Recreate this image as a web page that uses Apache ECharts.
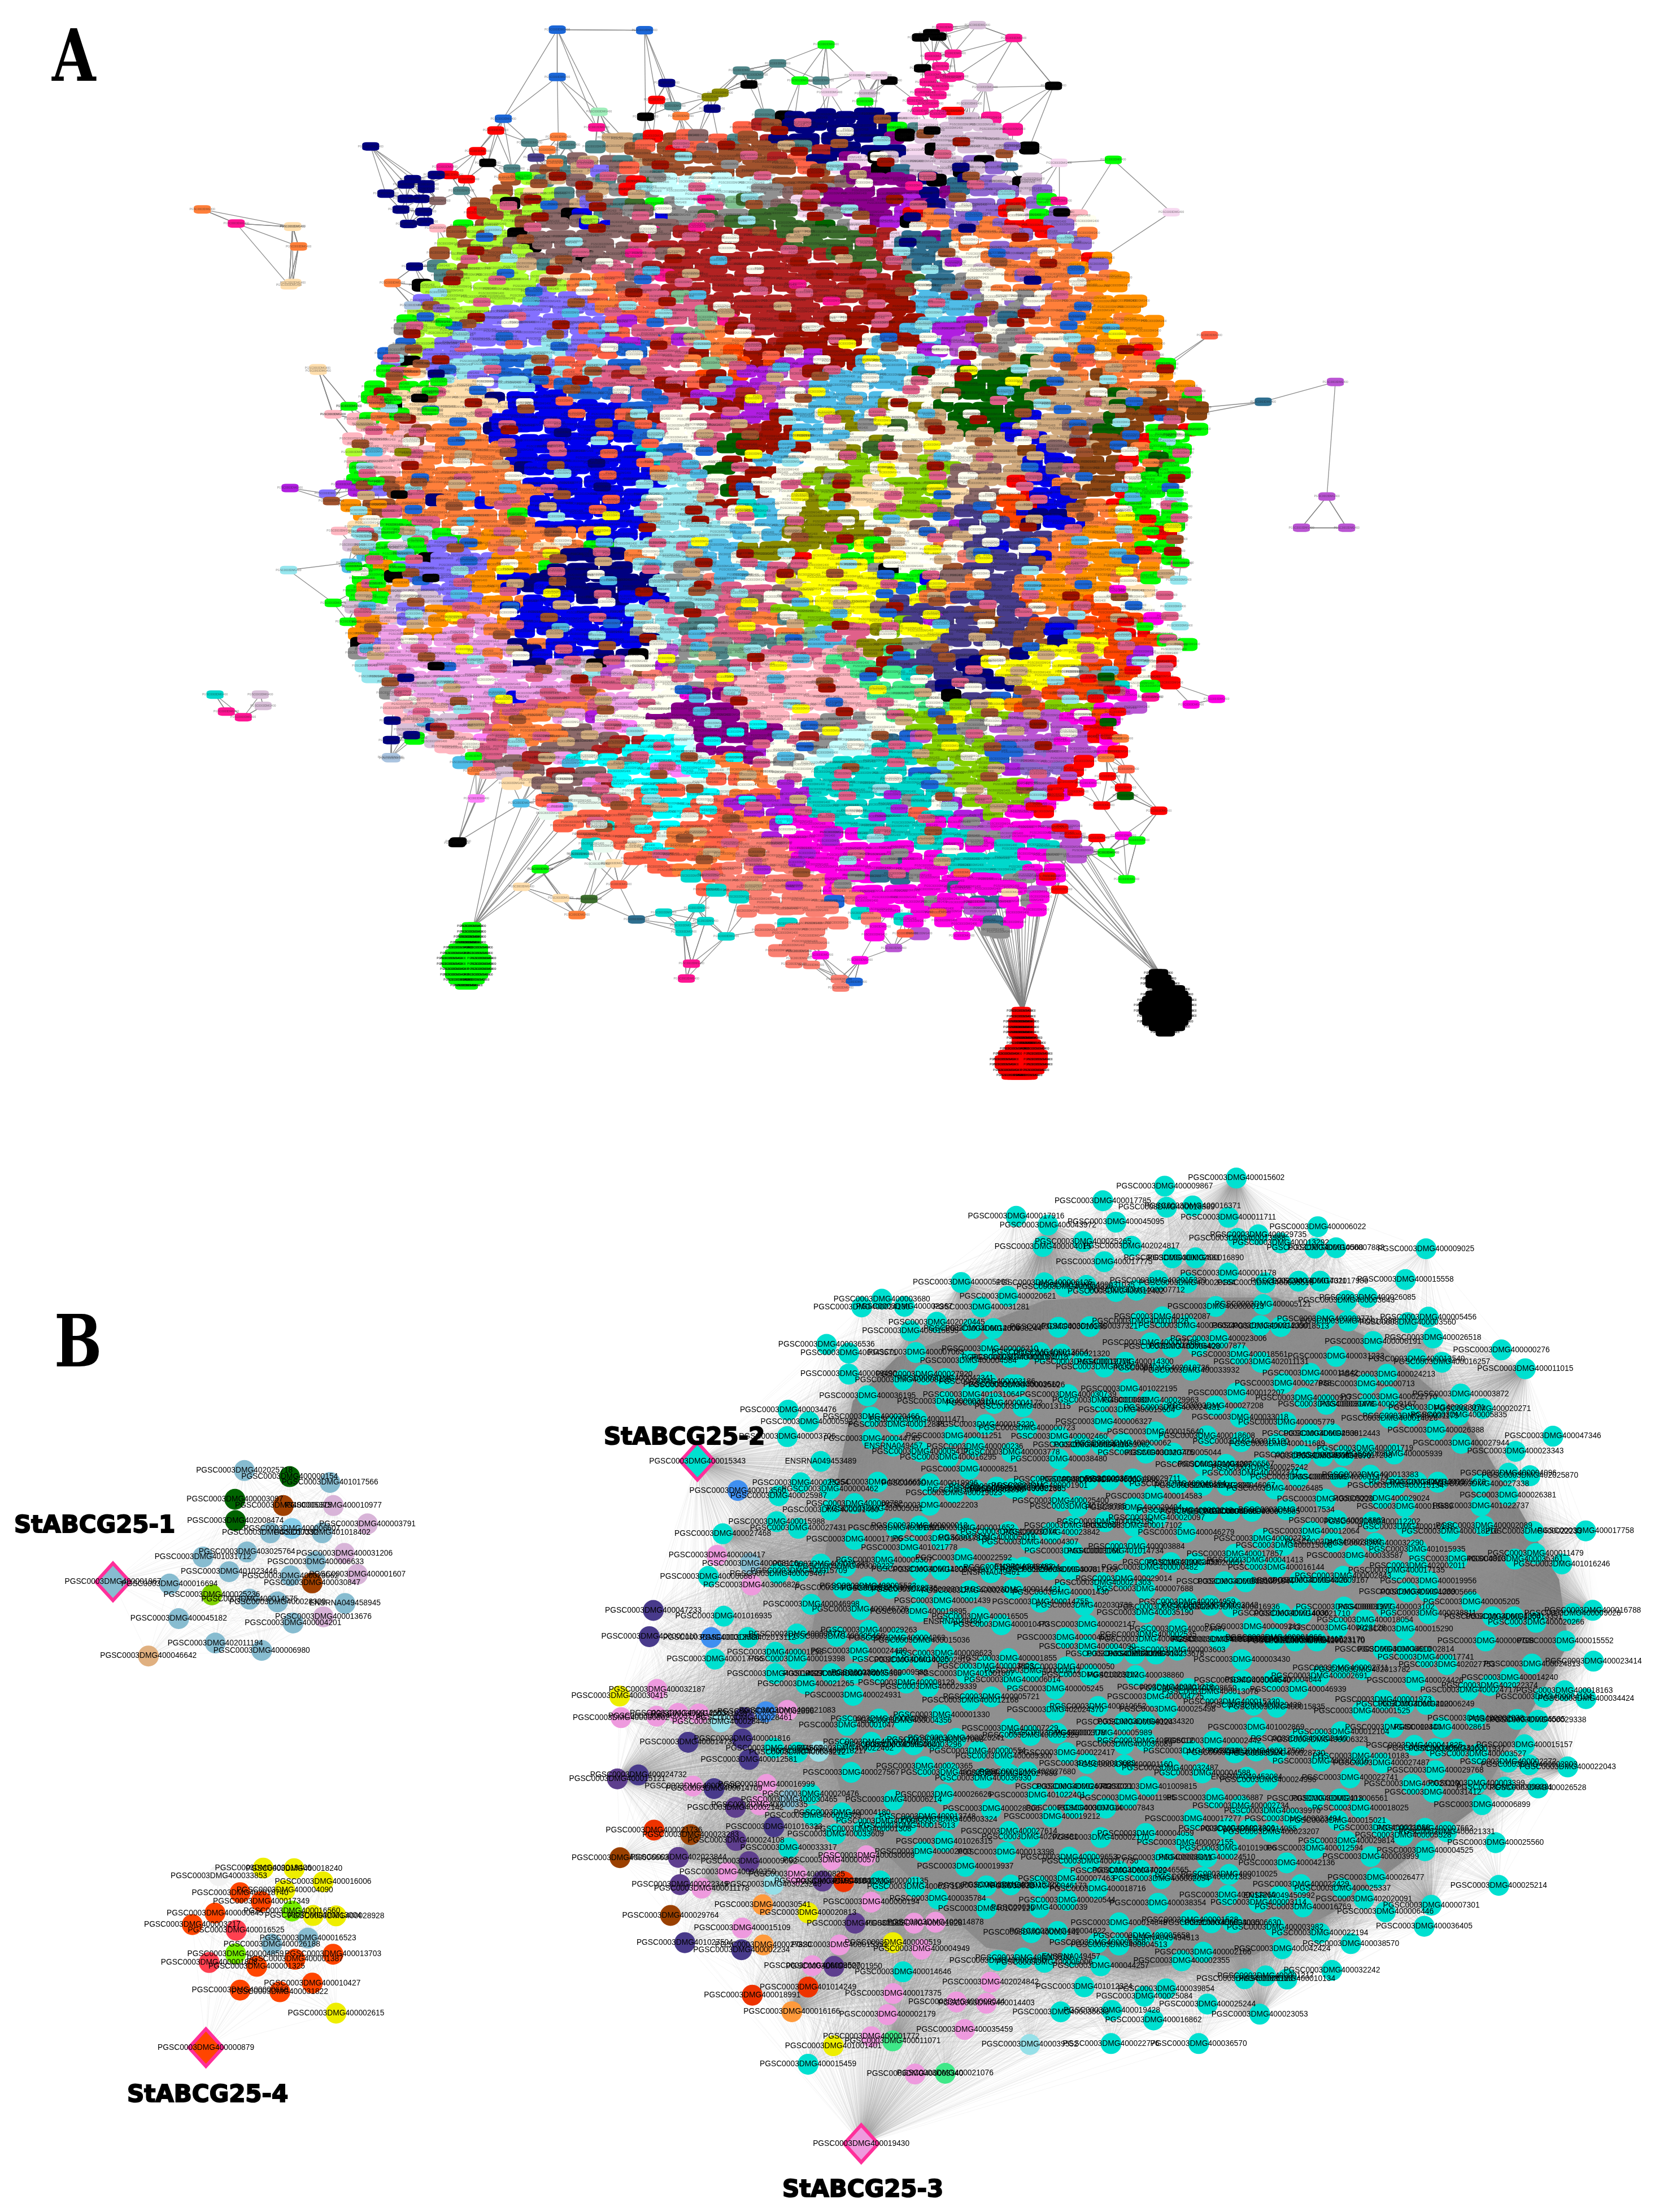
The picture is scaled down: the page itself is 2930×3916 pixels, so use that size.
<!DOCTYPE html>
<html>
<head>
<meta charset="utf-8">
<title>StABCG25 networks</title>
<script src="https://cdn.jsdelivr.net/npm/echarts@6/dist/echarts.min.js"></script>
<style>
html,body{margin:0;padding:0;background:#fff}
#chart{width:2930px;height:3916px}
</style>
</head>
<body>
<div id="chart"></div>
<script>
// panel A: colour of the modules, one letter per module
const moduleColor = {
  b:'#0000ee',n:'#000080',k:'#000000',r:'#ff0000',R:'#b22222',d:'#a01000',o:'#ff9000',O:'#ff7f3a',
  s:'#fa8072',t:'#ff6347',p:'#ffb6c1',P:'#f0a0e8',m:'#ff00e6',M:'#8b008b',v:'#b01ee0',V:'#9068d0',
  B:'#8470ff',c:'#00ffff',C:'#00d8cc',T:'#4f8689',g:'#00ff00',G:'#006400',l:'#adff2f',L:'#84d000',
  y:'#ffff00',Y:'#8b8b00',w:'#fffff0',W:'#f6d8f0',u:'#50bce8',U:'#1c67d8',e:'#96e6ee',a:'#d2ac80',
  A:'#a0522d',f:'#8b4513',h:'#ff1493',i:'#e0608a',j:'#909090',q:'#8b6969',x:'#d8bfd8',z:'#ffdead',
  D:'#7fc090',E:'#483d8b',F:'#2f6f8f',H:'#3c6e2d',I:'#ff83fa',J:'#eafaf0',K:'#43ee8a',N:'#ff4500',
  Q:'#ba55d3',0:'#c8ffff',1:'#a0eebb',2:'#aac4e0'
};

// panel A: dominant module, row by row (28 x 19 px cells, first row at y = 206)
const moduleRows = [
"                           TknnnnnnnW  xxh",
"                         tRAnnnnnnngTWxxxxh",
"                  aTrAtqtTARnnnnnnnMkxxxxxx",
"                TaAtArtqAAAAATRnnnnnWkxxxxxk",
"              TqaqTaAAAAAAAARtnnMWkxxxxxVk",
"            qATaBqtjTAAAAAAAAtAWMMkFxxxkxV",
"           AlTaqjTqrH0000000AAAAqMMMMnkFnVxkx",
"          AlzlTqajrj0000000jqAjMMMMMMnMFVVVxV",
"         AlkAlqaBqTHgj00jDHjqWAMMMMMvMnVVVVrVg",
"        rAlAlqkbTqjqbjjHjjHHHWWjMMMvrOVVVVrWgVp",
"        gAllAqqqbbqqqqjiqHHHHHHGjWMvkOOVVOVrrVVw",
"       AlAlkqqqqqqqhqRRRRRRRHHHHHHRWFMFOOOOVrVVO",
"       lAllqkqqqqqqiRRRRRRRRRHHHHHRWFFFwOOVOOOOV",
"      AllAAlqqqkqqqiqRRRRRRRRRRHHHRRFFwwwOVVOOOro",
"      TlAlllaTaqqiiiRRRRRRRRRRRRRdHRjFFwwxOOOOOoV",
"      TAlllllzzOOtqihRRRRRRRRRRRRRRdHFFjwwOVOOOOOo",
"     klllllllBlOOOqqiRRRRRRRRRRRRRdRRuFjVwOOOVOOoo",
"     BllllllBBBBtOttiDiRRRRRRRRRRRdduuuujwVjwOOOooo",
"     lllllBBBBBBBOtttiiDRRRRRRRRRRddduuuuvjjVOOOooo",
"    gllllBBBBBBBBtvttiiDhRRRRRRdddddduuvvjFwOOOooOoo",
"    jlllBBBBBBBBtvtiiiDDOdRRRRdddddduuvvQwwjOOOooooo",
"    UlBBBBBBBeeBBvvUtviOOOdRdddddwudduvQvwjwwwaOooOo",
"   UjlBBBBBeeeeBttUUtiidONdddwvddduwwvvQwjjwwaOoooor",
"   BkBBeeeUUeBtteUUiiiODONdNvvddduuuuuuvwaaGaOOtOOOOg",
"   ggzBBeBUUUeeteiRRiiiNdNvvQiduuuuuuGwwGGGGaaaOfOOOo",
"  gtggzzzBeebtUUiiUiddtdvvvQiQuuuuuuwwwGGGGaGaaafOOOOo",
"  gAzzzzzznbbbbUUUUiUidvvvRiQwuuuuuwwwaGGGGGaaaafGaOfOg",
"  gkzzzzzzzbbbbbbbUUiiRdddvvwwuuuuYwYwGGGGGGaaaaaGGffOf",
" pgOgzzzzzbbbbbbbbtAdwwiRvvvduuwYuwwwaaGGGGGbaaaaGffUff",
" ppOpAOOOnbbbbbbbbUUiwwiiRRdduuwYjwHwaaGGGbaaaqqGGfgfrg",
" ppppAOOOObbbbbbbbbUUwwiiGGdduuuwwYHwwaaaaabbaaqfffrgg",
" pppppOOOOObbbbbbbbCUUwiGGddudwwYHHwaawwaaafbqqaffOOgg",
" pppppOOOOObbbbbbbbbCiiwwdduuuwwYLLzaLawwaaabbbfffrgGg",
" gppOOOOOOOnbbbbbbbbOiiGGwddwwYLLLwwaLLqqqaabqqfffOGgg",
" ggAOOOOOOOObbbbbbbbbeeiwddwwiLjLLzLLLLqwaarbbOzffrgg",
" vBAOOOOOOOOObbbbbbbeeeiGddwwYLLzzzzLLzzqqwrbbfffrgg",
" oAAOOnOObOOObbbbbbbeeeeddCuwwYLzzzzLLLzqqNNrbbfOrgg",
" oAiOOOOOOOgbbbbbbbeeeeeiwCuwYYYYwLLLLqEENNbnnOOOoggg",
" zzgggiOOOOOObbbbbbbeeeeewwuuYYYYYwzzqwvEEENnbbbOOoogg",
" eegeeggOoooOOOObbbbeeeeeuwuYYYYYYwwwzqaEEEEEOOoooorr",
" xxgxgBBBoOOOzzOggeeeeiuuuYYYYYYgygwwwOwEEbEOOooooogg",
" ugggkBBBBooOOnnnnOOeeuuuwYYwryyggyywwwsjEEEbOOooooOg",
" ugoBBBBBBooognnnnneeejjuuwuiqyyyyjkwwwAEEEEEOoooooo",
" ggkBBBBoobbnnnnnnnnejjsuwwiyyyyyyyggbqqOEEOooOooOOg",
" gooxxBBBoobnbnnnnnnneejjiiiqyyyyyyyUgAOOEEOOooooozz",
" ggxxxxBBooObbbnnnbbbeeeiiqwqyyyyyyEyOOEEEENoooNwww",
" xxxBBooOOObbbbbbbbeeiTiiOTiLLLyyyqEEEEEAAEEOOONNNww",
" ooxBxooPPobbbbbbbbeeiTTiOOOTLLLyyyLEvEEEfEENEENNNNm",
" ooPPooPPPOObbbbbbbjeeTTiiiiOODuiiYLyyyEEfEEAbbNNNrrw",
" kBPPPPPPPPnObbbbbbneeisjTTTDDuuiYYYjjEEEEEAAnyyyNNNgg",
" jPPPPPPPPOPnbbbbnnkwQjDTDDiiiipppYKKEEEEAAnyyyyyNNvw",
" ePPPPPPPPPnnPjxkQwwvjDDTiippppKKKdEEEEnnyyyyyyNNNvwr",
"  eePPPPPPPPPPPxeQPAsipiiipppppppKKKCCEEnnyyyyyjjoNwr",
"   PPPPPPPPPPPPiiiiPwwjsippppppppKKKKEnEEnnyyNNNNCwgr",
"   jxPPPPPPbPPiiOPPwwwmMMippppppppKKKKwkEEUUiNNNTmm",
"   pxpPPPPiiiOOOiPPwwMMMMpppppppppjwwKKLLyoNNLLLmQQ",
"    pPxxiiiOOOPPvwwwMMMMMMpppppjjjwKLLLyLLLQQQmmNm",
"    xxpPPiOOOOqqPIIwwwMMMMMMwwjj00wwLLUjjQQQQQQrr",
"     gxppIiOOOOqqqRRcc0MMMMMwiRj00wFUQLLjLQQQQQQrm",
"      pppiiPqqqqRRcccc0MMMvwwwj000CCCLLLLUUVVQQQmr",
"        uiqqRRPcccqqcccJOOMwjj00CCCCCLLLLLUVQQQr",
"         ixiqRRqqcccIIcJJOOwwwCCCCCCUULLLLvVVVr",
"           zzqqqIRccccJJttOOwwCCCCCCCCjLLLLLVQr",
"             FqqqJJtttccJOttvvCCCCCCCCCwwLLLQm",
"             ttJJtttcccttvvvvvCCCCCCjCwvLLLLQm",
"             JztttttcctttOvvmmCCCCCCtCCvvLmmr",
"              tttCtttcttttOOvmmmCCCCCCmmQQmmmQQ",
"               JttttJOOttssvmmmmmCCCCCCCjjQmmQQ",
"                CJttcOOOttsssmmmmmmmmCCmmmCCCCQ",
"                  ttcttOOssssmmmmmmFmmCCCCCmmjQ",
"                    ttOOtsssssmmmmmmmmmCCCCCmm",
"                      CtsssssssmmmFFjmmmmmjjmm",
"                       tCssssssmsmmmmmmFmmmmQ",
"                         CsssssUsmmmmjmmFFmjm",
"                          ssssss Cmm mmmQQ mm",
"                            Csss s Cm mmmFm",
"                           ssss   m  Q   jj",
"                            sss",
"                            ss"
];

// panel A: odd nodes seen on top of the dominant module, same rows, half a cell further on
const speckleRows = [
"                             i    A",
"                           d   w    A",
"                     i  d   a  A  e    d",
"                  A  e   i  d    w   i   A",
"               i    d   j   A  e  d    n",
"             d  i  j  w   i  d  a   i  A",
"            A  d   e  i   j   d  w  h   i",
"           d   A  a   h  e   i    d   A  e",
"          i  U  d   w  i  A  d  e   i  w  A",
"         A  d  l  i   i  e   d  A  n   U  w",
"         e  i   d  w  h   A  a   d  w  n  i",
"        U  A  e   d  i  w   a   i  n   w  d  e",
"        d  l   i  h  a  w   i  d   e  A  U  w",
"       i  e  A  w   d  u    d  a  i   v  A  d",
"       A  U  d  i  u  a   w   d  i   e  w  i  U",
"      d  i  A  e  U  i   i  h   d   w  A   n  w",
"      e  l  U  w  d   u   i  i  a  A   d  w  i",
"     A  i  u  A  e  d  w   a  h  i   i  A  w  U",
"     U  d  i  u  i  e   a   d  w  i  e  A  d  U",
"    i  A  w  d  e  U  a  i   w   i  e  A  d  U  u",
"    d  e  U  A  u  i  a  w  d  i  U  w  A  i  e  y",
"    A  i  t  U  w  d  e  i  a  y  A  w  i  e  U  d",
"   e  d  u  A  i  w  i  a  t  w  y  e  d  A  U  w  i",
"   i  U  i  d  A  a  w  i  u  i  w  d  y  e  A  a  d",
"   A  e  w  U  d  i  i  u  a  A  w  i  d  y  U  e  w",
"  d  i  U  e  A  w  d  a  i  y  w  i  A  u  d  w  a  i",
"  i  A  d  w  t  i  U  u  y  A  a  d  w  i  e  i  U  A",
"  e  U  i  A  t   e  w  i  d  y  i  u  w  A  U  a  d",
" a  d  U  i  i  A  t  w  a  e  i  y  A  d  w  U  e  i",
" i  i  e  d  n  t  e  a  A  y  u  w  d  a  i  A  U  w",
" A  w  U  i  i  e  t  w  d  u  a  i  y  A  w  d  U  e",
" u  i  a  A  i  t  e  U  y  w  i  d  u  i  a  A  w  i",
" e  d  w  a  A  n  t  u  i  e  w  y  d  a  U  i  i  A",
" i  U  i  w  e  t  a  u  d  w  A  y  i  a  i  U  w  d",
" A  e  a  u  i  n  e  w  U  i  d  w  y  a  i  A  u  U",
" a  i  u  i  A  t  w  a  e  y  d  i  U  w  i  A  u  e",
" e  U  A  i  a  t  i  d  y  w  u  i  i  U  a  A  w  i",
" w  i  u  A  e  y  a  d  i  i  w  u  U  e  a  A  y  i",
" i  a  w  i  A  y  d  e  u  a  i  A  U  w  d  i  e  y",
" A  i  U  a  w  u  i  y  e  A  d  a  i  w  U  u  i  A",
" a  u  A  i  y  i  w  a  d  e  i  A  y  U  w  i  u  d",
" i  i  U  w  A  a  u  d  i  i  e  w  a  y  A  i  U  i",
" w  A  e  y  i  w  i  a  u  d  A  U  i  w  e  i  y  a",
" i  U  i  a  A  u  e  d  w  a  i  i  y  A  u  U  w  e",
" a  w  u  i  y  i  d  A  e  i  w  U  a  u  i  d  A  i",
" u  A  i  U  a  w  i  e  y  u  a  d  A  i  w  i  U  e",
" i  e  y  w  A  i  a  d  i  w  u  U  y  A  i  e  a  i",
" A  a  i  i  u  U  w  e  y  a  d  i  u  w  A  i  a  e",
" i  w  i  A  a  e  d  u  i  U  i  w  y  a  A  u  e  i",
" u  i  y  a  i  A  w  u  e  i  a  d  A  w  U  i  i  a",
"  a  A  e  w  i  i  y  a  d  u  i  U  A  w  a  i  e",
"   i  U  i  A  a  w  u  e  y  i  d  A  i  a  w  u  i",
"   A  e  w  i  d  a  i  y  u  A  U  w  i  a  e  A",
"   i  a  u  i  A  w  U  e  i  d  y  a  w  A  i  i",
"    w  A  y  i  a  i  u  d  e  U  i  w  a  A  e",
"    i  e  i  a  A  w  u  i  y  d  i  U  A  a  w",
"     u  a  A  w  i  i  e  c  U  i  a  A  w  d",
"      A  i  i  a  e  w  c  u  y  A  i  i  a  w",
"        w  e  a  A  i  c  i  U  w  i  y  A  d",
"         i  a  w  i  A  c  u  e  i  a  w  U",
"           A  u  a  i  c  i  w  A  i  e  a",
"             w  i  A  c  a  i  i  w  e  A  i",
"             a  i  c  A  w  v  i  e  U  a  A",
"             A  i  e  w  c  a  i  v  A  i  e",
"              u  A  a  c  i  i  w  v  e  a",
"               i  a  w  A  c  i  v  i  j",
"                A  c  a  i  w  v  i  A",
"                  w  A  i  i  v  e  a  j",
"                    i  a  A  v  i  j  w",
"                      A  i  v  e  j  a",
"                       i  v  A  j  i",
"                         a  v  j"
];

// panel A: the three modules hanging under the main body
const greenBlobRows = ["      gg","      gg","     ggg","    gggg","  gggggggg"," ggggggggg","ggggggggggg","ggggggggggg"," gggggggggg"," ggggggggg","  ggggggg","    ggg"];
const redBlobRows = ["     rr","     rr","    rrrr","    rrrr","    rrrr","     rrrr","     rrrrr","   rrrrrrrr"," rrrrrrrrrrr","rrrrrrrrrrrr","rrrrrrrrrrrr"," rrrrrrrrrr","  rrrrrrr"];
const blackBlobRows = ["   kk","  kkkk","  kkkkk","    kkkkkk","  kkkkkkkkk"," kkkkkkkkkkk","kkkkkkkkkkkk","kkkkkkkkkkkk"," kkkkkkkkkkk"," kkkkkkkkkk","   kkkkkkk","     kk"];

// sub-cell offsets that keep the module rows from lining up
const nudgeX = [0,5,-4,7,-6,2,-7,4,-2,6,-5,3,-6,1,6,-4,4,-1,-8];
const nudgeY = [0,-3,4,-5,2,4,-1,-4,3,5,-4,1,-2,4,-5,1,4,-3,2,-1,-4,3,5];

// panel A: nodes outside the dense body, as read in each crop of the picture
const outTop = [[545,103,'U'],[718,105,'U'],[545,267,'U'],[1078,155,'g'],[438,412,'U'],[423,453,'r'],[387,525,'r'],[175,508,'n'],[407,565,'k'],[322,580,'h'],[762,288,'n'],[925,293,'k'],[910,245,'T'],[982,220,'T'],[937,260,'T'],[1026,280,'g'],[1068,280,'T'],[742,347,'r'],[628,388,'1'],[868,322,'Y'],[848,337,'Y'],[720,405,'k'],[774,368,'T'],[790,403,'O'],[852,377,'n'],[623,442,'h'],[490,495,'T'],[547,475,'O'],[565,503,'T'],[650,477,'a'],[525,520,'O'],[503,547,'E'],[540,565,'O'],[455,585,'T'],[478,610,'g'],[445,615,'O'],[333,607,'r'],[365,622,'r'],[305,607,'n'],[258,622,'n'],[245,640,'n'],[285,640,'n'],[205,672,'n'],[285,655,'n'],[245,690,'n'],[275,690,'n'],[235,727,'n'],[280,735,'n'],[250,777,'n'],[283,770,'n'],[355,662,'T'],[308,697,'q'],[308,792,'p'],[262,925,'n'],[218,982,'O'],[258,1060,'2'],[315,1070,'V'],[32,855,'O'],[20,787,'z'],[13,990,'z'],[70,1278,'z'],[216,1243,'i'],[275,1262,'A'],[257,1290,'O'],[305,1297,'n'],[340,1130,'U'],[320,1118,'g'],[315,1155,'l'],[335,1193,'B'],[203,1380,'g'],[220,1388,'g'],[188,1400,'O'],[132,1410,'g'],[100,1438,'p'],[272,1382,'k'],[310,1325,'g'],[293,1358,'g'],[1450,132,'h'],[1313,95,'h'],[1378,87,'x'],[1287,115,'k'],[1265,130,'k'],[1300,127,'k'],[1330,186,'h'],[1290,195,'h'],[1269,237,'k'],[1393,303,'x'],[1529,298,'k'],[1203,280,'k'],[1140,262,'W'],[1183,262,'W'],[1085,320,'W'],[1160,325,'x'],[1155,353,'g'],[1362,360,'x'],[1323,385,'r'],[1447,507,'V'],[1442,578,'F'],[1540,565,'W'],[1540,697,'h'],[1545,737,'k'],[1480,627,'x'],[1288,453,'k'],[1305,230,'h'],[1290,260,'h'],[1320,270,'h'],[1280,285,'h'],[1305,300,'h'],[1335,265,'h'],[1270,320,'h'],[1300,330,'h'],[1255,350,'h'],[1285,360,'h'],[1265,385,'h'],[1300,395,'h'],[1335,385,'r']];
const outLeft = [[133,120,'g'],[78,145,'p'],[225,100,'t'],[285,100,'g'],[378,95,'k'],[237,152,'O'],[318,155,'A'],[415,135,'g'],[150,262,'l'],[320,262,'Y'],[115,362,'v'],[58,390,'B'],[72,413,'A'],[227,352,'g'],[280,372,'A'],[307,393,'k'],[375,355,'A'],[235,423,'o'],[100,505,'p'],[183,520,'e'],[197,548,'e'],[280,500,'g'],[365,538,'g'],[300,552,'x'],[133,603,'u'],[150,615,'g'],[300,618,'g'],[232,668,'g'],[313,665,'o'],[417,650,'k'],[78,727,'g'],[130,785,'g'],[268,775,'p'],[245,867,'p'],[435,922,'k'],[330,958,'n'],[397,975,'x'],[325,1040,'p'],[447,1048,'p'],[283,1090,'n'],[365,1085,'p'],[280,1150,'n'],[350,1135,'n'],[428,1110,'n'],[443,1110,'R'],[277,1203,'2'],[565,1200,'g'],[573,1245,'O'],[615,1257,'p'],[575,1330,'I'],[730,1345,'u'],[848,1357,'I'],[512,1463,'k'],[952,1440,'t'],[936,1502,'C'],[797,1548,'g'],[1000,1410,'J'],[1120,1480,'z']];
const outBottom = [[287,115,'g'],[250,210,'z'],[328,270,'z'],[384,275,'H'],[360,360,'O'],[443,198,'t'],[478,383,'F'],[532,347,'C'],[597,323,'C'],[570,415,'C'],[615,392,'C'],[572,450,'C'],[656,473,'C'],[587,618,'h'],[577,697,'h'],[825,470,'s'],[1011,457,'t'],[957,422,'m'],[1076,347,'t'],[1123,470,'m'],[988,535,'Q'],[921,600,'m'],[843,573,'m'],[800,550,'s'],[800,590,'s'],[825,625,'s'],[790,620,'s'],[880,700,'s'],[910,715,'U'],[883,745,'s'],[1152,290,'m'],[1165,340,'Q'],[1218,240,'z'],[1252,147,'Q'],[1293,155,'r'],[1317,225,'r'],[1117,220,'m'],[1410,30,'g'],[1450,170,'g'],[1123,135,'t'],[365,35,'C'],[400,90,'J'],[433,85,'z']];
const outRight = [[1505,207,'g'],[1470,243,'g'],[1445,295,'O'],[1515,305,'g'],[1440,335,'g'],[1530,388,'g'],[1437,390,'g'],[1410,433,'g'],[1545,430,'g'],[1435,468,'r'],[1445,505,'g'],[1420,565,'r'],[1550,603,'g'],[1358,785,'r'],[1425,800,'g'],[1330,685,'m'],[1383,935,'r'],[1290,955,'G'],[1228,960,'r'],[1445,1017,'m'],[1310,995,'r'],[1255,1022,'r'],[1330,1063,'r'],[1225,1090,'m'],[1297,1095,'G'],[1300,1135,'r'],[1340,1145,'O'],[1290,1205,'O'],[1137,1153,'m'],[1360,1240,'t'],[1295,1262,'r'],[1228,1283,'m'],[1350,1297,'r'],[1357,1322,'G'],[1275,1352,'r'],[1473,1368,'r'],[1185,1310,'r'],[1115,1300,'r'],[1040,1355,'r'],[1115,1323,'r'],[1130,1420,'r'],[1175,1440,'r'],[1258,1452,'r'],[1350,1445,'m'],[1397,1460,'g'],[1290,1497,'g'],[1217,1490,'Q'],[1525,870,'J'],[1010,1282,'m'],[1160,1260,'Q']];
const outFar = [[787,113,'g'],[828,150,'W'],[893,284,'F'],[944,270,'Q'],[938,351,'Q'],[920,373,'Q'],[952,373,'Q'],[860,494,'m'],[842,498,'m'],[813,493,'h'],[855,237,'t'],[152,491,'C'],[184,491,'x'],[186,499,'x'],[172,507,'h'],[160,503,'h'],[143,148,'O'],[167,158,'h'],[207,160,'z'],[207,200,'z'],[225,262,'z'],[205,345,'v'],[204,403,'e'],[277,536,'2'],[323,596,'k']];

// panel B small modules: x, y in crop, id after "PGSC0003DMG40", colour
const clusterOne = [[392,785,'0001967','bl'],[848,270,'2025718','bl'],[1005,298,'0000154','dg'],[1145,325,'1017566','bl'],[815,403,'0003097','dg'],[983,432,'0005375','br'],[1157,432,'0010977','th'],[817,502,'2008474','dg'],[1275,517,'0003791','th'],[938,558,'0017392','bl'],[1013,538,'0006607','sk'],[1118,558,'1018402','bl'],[857,647,'3025764','bl'],[704,670,'1031712','bl'],[1195,653,'0031206','th'],[1095,692,'0006633','bl'],[795,738,'1023446','bl'],[1008,757,'0029062','bl'],[1240,750,'0001607','th'],[1083,790,'0030847','br'],[588,795,'0016694','bl'],[735,845,'0025236','li'],[866,865,'0014575','bl'],[963,878,'0028309','bl'],[1197,885,'ENSRNA049458945','bl'],[1122,947,'0013676','th'],[620,955,'0045182','bl'],[1017,975,'0004201','bl'],[747,1068,'2011194','bl'],[908,1102,'0006980','bl'],[515,1128,'0046642','tn']];
const clusterFour = [[430,1190,'0000879','or'],[695,300,'0018406','ye'],[838,303,'0018240','ye'],[490,338,'0033853','ws'],[972,368,'0016006','ye'],[795,410,'0004090','ye'],[588,422,'2018740','or'],[686,466,'0017349','or'],[828,513,'0016560','lg'],[472,523,'0000845','or'],[926,535,'0013004','ye'],[1032,537,'0028928','ye'],[367,580,'0003217','or'],[570,608,'0016525','to'],[902,647,'0016523','bl'],[735,677,'0026188','bl'],[1018,727,'0013703','or'],[567,725,'0004859','lg'],[842,752,'0001387','or'],[445,768,'0001808','to'],[665,787,'0001325','or'],[922,870,'0010427','or'],[588,905,'0000668','or'],[772,913,'0031822','or'],[1032,1019,'0002615','ye']];

// panel B big module, crop by crop
const bigUpperRight = [[710,62,'0015602'],[557,87,'0009867'],[425,132,'0017785'],[561,152,'0018389'],[617,148,'0016371'],[240,180,'0017916'],[693,183,'0011711'],[308,207,'0043972'],[453,198,'0045095'],[884,212,'0006022'],[757,237,'0029735'],[712,248,'0013988'],[805,262,'0013292'],[383,258,'0025265'],[297,273,'0004015'],[486,272,'2024817'],[923,277,'0007882'],[1115,280,'0009025'],[878,278,'0010568'],[428,320,'0017775'],[573,308,'0002681'],[623,308,'0016890'],[1071,375,'0015558'],[843,380,'0017311'],[889,380,'2017989'],[300,385,'0006125'],[344,397,'0003316'],[390,393,'0031035'],[543,378,'2015329'],[605,385,'0020164'],[453,412,'0012402'],[497,408,'0007712'],[772,385,'0005518'],[693,355,'0001178'],[990,430,'0026085'],[945,440,'0003643'],[666,458,'0000013'],[767,452,'0005121'],[1120,491,'0005456'],[1076,508,'0003560'],[900,497,'0008771'],[949,503,'0014988'],[505,503,'0010028'],[552,490,'1002087'],[761,517,'0012390'],[805,520,'0018513'],[604,517,'0036024'],[330,522,'0010155'],[397,520,'0037321'],[1130,555,'0026518'],[1002,566,'0006191'],[672,558,'0023006'],[527,570,'0007166'],[573,583,'0006428'],[627,580,'0007877'],[1276,592,'0000276'],[717,607,'0018561'],[923,612,'0031233'],[291,600,'0013654'],[337,605,'0021320'],[248,615,'0004018'],[1095,620,'0013540'],[1149,630,'0016257'],[1327,650,'0011015'],[382,630,'0012774'],[428,645,'0009384'],[473,630,'0014300'],[550,648,'2018736'],[614,655,'0033932'],[763,630,'2011131'],[868,664,'0011842'],[1032,667,'0024213'],[241,700,'0025626'],[988,697,'0000713'],[810,695,'0027838'],[1189,728,'0003872'],[481,713,'1022195'],[710,725,'0012207'],[351,730,'0030739'],[854,740,'0000917'],[902,760,'0030478'],[1036,737,'0022770'],[420,748,'0010480'],[527,747,'0029963'],[665,765,'0027208'],[254,767,'0013115'],[476,778,'0015604'],[573,770,'0024331'],[991,760,'0029167'],[1138,770,'0033071'],[1236,773,'0020271'],[1185,793,'0005835'],[718,800,'0033018'],[817,815,'0005779'],[1037,803,'0014026'],[1082,797,'0031175'],[263,833,'0000723'],[427,813,'0006327'],[868,850,'0002538'],[914,850,'0012443'],[1136,840,'0026388'],[537,845,'0015640'],[647,857,'0018608'],[1386,858,'0047346'],[332,860,'0002460'],[378,885,'0006114'],[423,885,'0053062'],[468,880,'0000062'],[720,875,'0015100'],[797,882,'0011689'],[1190,880,'0027944'],[1306,905,'0023343'],[331,928,'0038480'],[985,895,'0001719'],[1047,913,'0005939'],[517,910,'0020775'],[575,910,'0005044'],[850,917,'0009411'],[895,920,'0002870'],[940,918,'0017208'],[640,947,'0003287'],[688,945,'0006567'],[760,955,'0025242'],[1291,972,'0004096'],[1337,980,'2025870'],[337,992,'0019811'],[394,992,'0003860'],[440,993,'0001386'],[489,990,'0029711'],[996,978,'0013383'],[843,985,'0003005'],[740,973,'0002347'],[932,985,'0001474'],[1140,1000,'0005623'],[1096,1000,'0013415'],[1232,1005,'0027338'],[1050,1010,'0015134'],[243,1022,'0002385'],[290,1010,'0001901'],[585,1006,'0046164'],[638,1010,'0012300'],[690,1010,'0046067'],[792,1020,'0026485'],[1290,1040,'0026381'],[335,1058,'0025400'],[534,1043,'0014583'],[900,1052,'0005220'],[1020,1050,'0029024'],[1232,1073,'1022737'],[1070,1075,'0018689'],[600,1088,'0002216'],[650,1090,'0006635'],[697,1090,'0009308'],[743,1090,'0005885'],[817,1085,'0017534'],[372,1075,'1028785'],[491,1078,'0029494'],[430,1122,'0045195'],[540,1110,'0020097'],[925,1118,'0018889'],[1000,1122,'0012202'],[1072,1138,'0016132'],[1239,1135,'0002089'],[360,1135,'0003648'],[316,1155,'0023842'],[491,1135,'0017102'],[603,1155,'0046279'],[870,1152,'0012064'],[1166,1152,'0018216'],[1345,1152,'0022233'],[1456,1150,'0017758'],[765,1175,'0002792'],[917,1185,'0028880'],[1007,1188,'0032290'],[1349,1220,'0011479'],[270,1185,'0004307'],[812,1195,'0015008'],[497,1198,'0003884'],[360,1212,'0001166'],[452,1212,'1014734'],[1096,1208,'1015935'],[963,1227,'0033587'],[1305,1237,'0035361'],[1405,1252,'1016246'],[707,1222,'0017857'],[570,1248,'0002453'],[622,1250,'0020651'],[1182,1238,'0004310'],[525,1263,'0000482'],[795,1263,'0016144'],[750,1240,'0041413'],[256,1262,'ENSRNA049462'],[310,1270,'0003078'],[355,1270,'0017166'],[1052,1272,'0017135'],[938,1290,'0002843'],[1097,1258,'2002011'],[1120,1305,'0019956'],[685,1307,'0002214'],[730,1307,'0001844'],[425,1310,'0021303'],[845,1303,'0004426'],[890,1303,'0009167'],[470,1298,'0029014'],[1075,1338,'0001289'],[1120,1340,'0005666'],[335,1340,'0001430'],[515,1330,'0007688'],[1212,1370,'0005205'],[292,1370,'0014755'],[385,1380,'2030736'],[700,1385,'0016936'],[605,1370,'0004959'],[560,1385,'0000227'],[654,1380,'0003042'],[1030,1385,'0003102'],[940,1385,'0001977'],[1471,1395,'0016788'],[1428,1405,'0009028'],[1257,1415,'0001354'],[1303,1415,'0013351'],[1350,1432,'0020266'],[805,1405,'0014036'],[850,1407,'0021710'],[1120,1405,'0038811'],[515,1402,'0035190'],[985,1425,'0018054'],[392,1440,'0002147'],[585,1453,'0024487'],[745,1447,'0009213'],[926,1450,'0023128'],[1070,1453,'0015290'],[345,1480,'0004610'],[522,1470,'0002535'],[790,1480,'0001066'],[835,1485,'0002117'],[881,1487,'0023170'],[676,1487,'0006522']];
const bigLowerRight = [[1183,10,'0000708'],[1384,10,'0015552'],[178,30,'0004090'],[245,55,'0003318'],[298,55,'0005142'],[351,55,'0033678'],[405,42,'0003603'],[510,5,'0018224'],[330,5,'0002049'],[650,5,'0007233'],[703,10,'0001170'],[757,10,'0023170'],[924,40,'0006610'],[982,40,'0002814'],[1032,68,'0017741'],[1455,80,'0023414'],[568,75,'0003430'],[125,100,'0000050'],[40,115,'0003412'],[1300,90,'0024813'],[1085,92,'2027753'],[185,128,'1023012'],[300,130,'0038860'],[817,105,'0002711'],[871,110,'2013782'],[764,132,'0002691'],[1005,148,'0024426'],[1244,137,'0014240'],[569,148,'0004640'],[647,145,'0004644'],[710,178,'0046939'],[97,176,'0005245'],[375,170,'0001218'],[433,175,'0008650'],[488,187,'0013078'],[1193,165,'2022374'],[1140,180,'0024717'],[1382,183,'0018163'],[1436,210,'0034424'],[1330,205,'0004124'],[205,237,'0010652'],[350,205,'0004725'],[925,215,'0001973'],[978,230,'0002120'],[1033,230,'0006249'],[542,222,'0015330'],[597,233,'0029438'],[656,240,'0015835'],[380,247,'0025498'],[97,250,'2024370'],[871,253,'0001525'],[1158,278,'0002038'],[1262,282,'0006585'],[1315,285,'0029338'],[272,292,'0008124'],[325,290,'0034320'],[604,310,'1002869'],[950,310,'0012440'],[1073,310,'0028615'],[818,325,'0012104'],[35,338,'0001329'],[102,330,'0002778'],[220,330,'0005989'],[712,350,'0002440'],[764,353,'0006323'],[495,358,'0002442'],[271,368,'0036089'],[325,358,'0006012'],[1003,372,'0041825'],[1281,370,'0015157'],[1056,383,'0033163'],[1110,385,'0001937'],[126,398,'0022417'],[441,392,'0003518'],[550,398,'0005524'],[604,392,'0012508'],[656,400,'0028730'],[1164,402,'0003527'],[868,410,'0010183'],[767,427,'0005216'],[178,435,'0013689'],[272,440,'0001160'],[387,452,'0032487'],[920,433,'0027487'],[1390,447,'0022043'],[1293,440,'0002903'],[1240,430,'0002272'],[27,465,'2027680'],[468,468,'0004588'],[1056,460,'0029768'],[580,483,'ENSRNA049453084'],[634,492,'0024956'],[841,485,'0022741'],[1160,505,'0003399'],[118,515,'0026742'],[171,515,'0003021'],[333,515,'1009815'],[997,507,'0023119'],[1231,517,'0003381'],[1315,520,'0026528'],[52,545,'1022401'],[500,555,'0036887'],[280,555,'0011985'],[752,558,'0002113'],[815,558,'1006561'],[1050,535,'0031412'],[145,590,'0007014'],[225,590,'0007843'],[1174,578,'0006899'],[867,590,'0018025'],[645,600,'0039970'],[565,583,'0002734'],[89,620,'0019212'],[445,628,'0017277'],[810,633,'0015021'],[697,628,'0023494'],[921,658,'0021688'],[1030,660,'0007662'],[1085,672,'0021331'],[975,685,'0005528'],[530,660,'0003306'],[585,662,'0014055'],[642,673,'0023207'],[325,678,'0004059'],[33,690,'2023481'],[212,692,'0002170'],[425,710,'0002155'],[1208,710,'0025560'],[832,705,'0029814'],[533,730,'1019006'],[752,730,'0012594'],[1030,738,'0004525'],[893,758,'0003999'],[132,760,'0009653'],[372,762,'0008811'],[480,760,'0024510'],[185,775,'0017730'],[681,780,'0042136'],[257,808,'0047022'],[312,805,'0046565'],[906,832,'0026477'],[125,835,'0007463'],[470,830,'0001383'],[536,820,'0010025'],[365,835,'0002054'],[55,860,'0046173'],[204,870,'0018716'],[717,855,'0022429'],[822,868,'0025337'],[1216,858,'0025214'],[532,893,'0012260'],[662,895,'ENSRNA049450992'],[876,905,'2020091'],[127,910,'0020544'],[1046,927,'0007301'],[610,918,'0003114'],[722,933,'0016769'],[356,920,'0038354'],[930,950,'0006446'],[57,935,'0000039'],[258,988,'0014848'],[437,978,'0001528'],[491,988,'0003035'],[545,988,'0006630'],[1028,1000,'0036405'],[652,1003,'0003982'],[37,1022,'0000141'],[103,1018,'0004622'],[765,1024,'0022194'],[315,1033,'0005658'],[370,1042,'ENSRNA049494513'],[843,1060,'0038570'],[204,1057,'0006368'],[258,1065,'0004513'],[470,1090,'0002166'],[670,1078,'0042424'],[17,1110,'0003180'],[137,1105,'ENSRNA049457'],[70,1125,'0005006'],[212,1137,'0044257'],[416,1120,'0002355'],[795,1153,'0032242'],[575,1182,'0006120'],[628,1172,'0001217'],[682,1183,'0010134'],[170,1210,'1012324'],[377,1217,'0039854'],[322,1243,'0025084'],[481,1270,'0025244'],[613,1305,'0023053'],[111,1297,'0035639'],[240,1292,'0019428'],[345,1325,'0016862'],[238,1407,'0022776'],[459,1407,'0036570'],[33,1410,'0039552','e']];
const bigUpperLeft = [[1375,40,'0005195'],[1100,98,'0003680'],[1030,125,'0024130'],[1178,123,'0002967'],[1445,125,'0031281'],[1537,88,'0020621'],[1290,178,'2020445'],[1199,208,'0015895'],[1412,200,'0012604'],[1487,200,'0008244'],[908,255,'0036536'],[985,285,'0043571'],[1218,283,'0007063'],[1400,313,'0004584'],[1475,270,'0006210'],[1545,300,'0001377'],[985,358,'0009490'],[1174,378,'0008138'],[1247,360,'0027920'],[1320,373,'0042341'],[1465,385,'0003186'],[1550,395,'0003610'],[1050,433,'0036195'],[1320,453,'0003910'],[1410,430,'1031064'],[1490,460,'0004172'],[775,483,'0034476'],[847,523,'0005922'],[1063,507,'0020466'],[1150,533,'0012885'],[1222,515,'0011471'],[1460,533,'0015220'],[772,575,'0003706'],[1065,583,'0044745'],[1350,572,'0011251'],[1140,608,'ENSRNA049457'],[1423,610,'0000236'],[1233,627,'0005417'],[1330,647,'0016295'],[1550,630,'0003778'],[460,660,'0015343','hub'],[888,661,'ENSRNA049453489'],[1403,688,'0008251'],[818,735,'0023254'],[920,757,'0000462'],[1085,733,'0016650'],[1266,738,'0019996'],[1425,760,'0001890'],[1498,750,'0007311'],[1555,755,'0002160'],[600,762,'0013560','U'],[742,780,'0025987'],[1350,770,'0019023'],[1005,807,'0009782'],[922,830,'0031460'],[1075,825,'0005051'],[1266,813,'0022203'],[735,870,'0015988'],[810,893,'0027431'],[1150,892,'0013018'],[1230,885,'0000013'],[1393,893,'0001652'],[1540,905,'0020774'],[548,912,'0027468'],[1005,932,'0017105'],[1305,930,'0017378'],[1465,925,'0005019'],[1195,960,'1021778'],[528,987,'0000417','P'],[1384,997,'0022592'],[643,1015,'0008116','bl'],[888,1017,'0016341'],[975,1025,'0000227'],[1108,1003,'0005307'],[740,1050,'0009467'],[812,1042,'0015709'],[1230,1035,'0011205'],[1305,1037,'0004331'],[498,1060,'0006887'],[1478,1047,'ENSRNA049461'],[648,1090,'3006826','P'],[1550,1030,'0002004'],[965,1100,'0018812'],[1052,1095,'0005523'],[1126,1102,'0022736'],[1230,1105,'0003011'],[1405,1110,'0026016'],[1310,1145,'0001439'],[1555,1105,'0014421'],[855,1157,'0046998'],[1025,1175,'0046726'],[1227,1183,'0019895'],[307,1178,'0047233','E'],[551,1198,'1016935'],[1440,1200,'0016505'],[1345,1217,'ENSRNA049484'],[1515,1228,'0010473'],[805,1260,'0008778'],[1055,1247,'0029263'],[943,1268,'0005460'],[293,1269,'0000110','E'],[508,1272,'0013586','U'],[635,1272,'2013112'],[1153,1275,'0004263'],[1238,1282,'0015036'],[730,1323,'0001293'],[1020,1320,'0024430'],[1315,1327,'0008623'],[1540,1345,'0001855'],[805,1347,'0019398'],[521,1347,'0017786'],[1165,1349,'0010025'],[1240,1350,'0002512'],[1460,1372,'0003603'],[1392,1397,'1001007'],[730,1397,'0014127'],[925,1397,'0007740'],[1002,1397,'0035368'],[1092,1393,'0009589'],[1553,1420,'0006014'],[836,1433,'0021265'],[1185,1430,'0008129'],[1262,1443,'0029339'],[1000,1473,'0024931'],[320,1452,'0032187','P'],[190,1475,'0030415','y'],[1407,1490,'0012168'],[1480,1478,'0005721'],[195,1550,'0030862','P'],[318,1545,'0031740','P'],[393,1535,'0012553','P'],[465,1537,'0041028','P'],[622,1550,'0028461','E'],[697,1530,'0002856','U'],[772,1525,'0021083','P'],[1090,1555,'0004006'],[1175,1560,'0004356'],[1307,1540,'0001330'],[540,1565,'0028440','e']];
const bigLowerLeft = [[914,1385,'0019430','hubP'],[380,147,'0014732','E'],[547,137,'0001816','E'],[645,165,'0004660'],[717,178,'0003212'],[783,175,'0018217','e'],[568,200,'0012581','E'],[870,95,'0001047'],[945,147,'0002401'],[865,165,'0022462'],[1010,155,'0000641'],[1075,155,'0003296'],[1142,140,'0007068'],[1207,135,'0020241'],[1273,175,'0000554'],[1353,190,'0009300'],[1373,105,'0007229'],[883,240,'0027567'],[1109,222,'0020365'],[1185,240,'0003394'],[1290,258,'0036930'],[1370,245,'2027680'],[162,260,'0015121','E2'],[227,248,'0024732','E'],[395,282,'0002882','P'],[460,290,'0014709','E'],[622,277,'0016999','P'],[692,324,'0030465','bl'],[758,307,'0020476'],[1014,325,'0006214'],[1168,308,'0026626'],[1315,353,'0028306'],[600,340,'0000335','P'],[526,348,'0002142','E2'],[855,365,'0004180'],[765,373,'0014309'],[1118,377,'0013748'],[1185,385,'0003324'],[985,390,'0002771'],[645,408,'1016333','E'],[920,415,'0001308'],[835,430,'0033609'],[1055,405,'0015013'],[1370,422,'0027614'],[275,418,'0021736','N'],[388,432,'0023283','f'],[528,450,'0024108','E2'],[1170,453,'1026315'],[690,473,'0033317'],[170,503,'0006663','f'],[350,502,'2023844','E2'],[930,497,'0030009','P'],[822,510,'0000570','P'],[1105,485,'0002600'],[1360,487,'0013398'],[568,515,'0009692','E2'],[1235,530,'0019937'],[502,548,'0040350','P'],[715,555,'0000825','P'],[355,586,'0022349','E2'],[643,585,'3023240','e'],[795,575,'0003184','E2'],[860,577,'0003004','N'],[973,575,'0001135'],[422,597,'0011178','P'],[1080,593,'0027118'],[1300,590,'0013829'],[1375,587,'0015722'],[610,648,'0030541','o'],[945,640,'0000194','P'],[1150,630,'0035784'],[1300,660,'1027129'],[750,673,'0020813','y'],[326,681,'0029764','f'],[895,705,'0030185','E2'],[1077,705,'0001828','P'],[1143,702,'0014878','P'],[547,720,'0015109','P'],[1012,765,'0000519','y'],[370,765,'1027504','E'],[612,772,'0027820','o'],[847,772,'0015352','P'],[1100,785,'0004949','P'],[545,787,'0002234','E'],[763,836,'0009527','P'],[830,838,'0001950','E2'],[1043,855,'0014646'],[1335,820,'0003180'],[750,902,'1014249','N'],[578,927,'0018991','N'],[1013,922,'0017375','P'],[1313,887,'2024842','P'],[700,978,'0016166','o'],[995,987,'0002179','P'],[1208,948,'0009044','P'],[1300,952,'0014403','P'],[1233,1033,'0035459','P'],[945,1055,'0001772','P'],[828,1083,'1001401','y'],[1011,1068,'0011071','K'],[750,1140,'0015459'],[1080,1170,'0003340','P'],[1173,1168,'0021076','K']];

// panel B: outline of the part of the big module where the edges merge into solid grey
const coreOutline = [[1849,2302],[1930,2297],[2260,2297],[2430,2370],[2595,2510],[2695,2680],[2760,2796],[2777,2910],[2698,3053],[2607,3206],[2467,3308],[2361,3385],[2221,3461],[2010,3487],[1746,3448],[1631,3344],[1574,3287],[1488,3172],[1459,3057],[1433,2913],[1459,2760],[1485,2607],[1510,2480],[1587,2403]];

const circleColor = {bl:'#87bcd0',dg:'#006400',br:'#a04000',th:'#d8b4d8',sk:'#87ceeb',li:'#7fd000',tn:'#e0b080',or:'#ff4500',ye:'#eeee00',ws:'#f2f2f2',lg:'#76ee00',to:'#ff4050',P:'#ee9ade',E:'#483a8b',E2:'#5e3e8e',f:'#9a4000',N:'#ee3300',o:'#ff9a3c',y:'#eeee00',K:'#3fe888',U:'#3f8ff0',e:'#96e0e8',hub:'#00e0d0',hubP:'#ee9ade'};
const bigTeal = '#00e0d0';
const hubPink = '#ff2f9a';

function placeCrop(list, ox, oy, sx, sy) {
    return list.map(function (p) {
        return {x: ox + p[0] / sx, y: oy + p[1] / sy, tag: p[2], c: p[3]};
    });
}

function fullId(tag) {
    return tag.charAt(0) === 'E' ? tag : 'PGSC0003DMG40' + tag;
}

// panel A nodes
let nodesA = [];
function addBox(x, y, letter, size, label) {
    const node = {
        id: 'a' + nodesA.length,
        name: 'PGSC0003DMG400',
        value: [x, y],
        symbolSize: size,
        itemStyle: {color: moduleColor[letter]}
    };
    if (label) node.label = label;
    nodesA.push(node);
}
function addBody(rows, x0, y0, dx, dy, size) {
    rows.forEach(function (row, r) {
        for (let c = 0; c < row.length; c++) {
            if (row[c] === ' ') continue;
            const nx = nudgeX[(r * 7 + c) % nudgeX.length];
            const ny = nudgeY[(r * 5 + c * 3) % nudgeY.length];
            addBox(x0 + dx * c + (r % 2 ? dx / 2 : 0) + nx, y0 + dy * r + ny, row[c], size);
        }
    });
}
addBody(moduleRows, 600, 206, 28, 19, [36, 23]);
addBody(speckleRows, 614, 215, 28, 19, [31, 16]);
const bodyCount = nodesA.length;

const outliers = [
    ...placeCrop(outTop, 500, 0, 1.12, 1.96),
    ...placeCrop(outLeft, 550, 650, 1.96, 1.742),
    ...placeCrop(outBottom, 700, 1500, 1.12, 3),
    ...placeCrop(outRight, 1300, 650, 1.96, 1.742),
    ...placeCrop(outFar, 0, 0, 0.3993, 0.3993)
];
outliers.forEach(function (p) { addBox(p.x, p.y, p.tag, [30, 15]); });

const linksA = [];
function dist2(a, b) {
    const dx = a.value[0] - b.value[0], dy = a.value[1] - b.value[1];
    return dx * dx + dy * dy;
}
// edges of the outer nodes cannot be told apart in the hairball: join each to its nearest nodes
const farStart = nodesA.length - outFar.length;
for (let i = bodyCount; i < nodesA.length; i++) {
    const best = [];
    for (let j = 0; j < nodesA.length; j++) {
        if (j === i) continue;
        best.push([dist2(nodesA[i], nodesA[j]), j]);
    }
    best.sort(function (a, b) { return a[0] - b[0]; });
    const wanted = i >= farStart ? 2 : 5;
    for (let k = 0; k < wanted; k++) linksA.push({source: i, target: best[k][1]});
}

function addBlob(rows, x0, y0, box, step) {
    const first = nodesA.length;
    const fringe = {color: '#000', fontSize: 5};
    const inner = {show: false};
    rows.forEach(function (row, r) {
        const start = row.search(/\S/);
        for (let c = start; c < row.length; c++) {
            const atEdge = c - start < 2 || row.length - c <= 2;
            addBox(x0 + 6 * c, y0 + 9.5 * r, row[c], [28, 15], atEdge ? fringe : inner);
        }
    });
    let n = 0;
    for (let j = 0; j < bodyCount + outliers.length; j++) {
        const v = nodesA[j].value;
        if (v[0] >= box[0] && v[0] <= box[1] && v[1] >= box[2] && v[1] <= box[3]) {
            if (n++ % step === 0) linksA.push({source: first + (n % 2), target: j});
        }
    }
}
addBlob(greenBlobRows, 796, 1640, [880, 1060, 1350, 1500], 4);
addBlob(redBlobRows, 1775, 1790, [1660, 1900, 1440, 1590], 2);
addBlob(blackBlobRows, 2030, 1723, [1800, 1960, 1430, 1560], 3);

// panel B nodes
function makeCircles(list, hubTags) {
    return list.map(function (p, i) {
        const hub = p.c === 'hub' || p.c === 'hubP' || hubTags.indexOf(p.tag) >= 0;
        return {
            id: 'n' + i,
            name: fullId(p.tag),
            value: [p.x, p.y],
            symbol: hub ? 'diamond' : 'circle',
            symbolSize: hub ? [60, 66] : 37,
            itemStyle: hub
                ? {color: circleColor[p.c] || bigTeal, borderColor: hubPink, borderWidth: 6}
                : {color: circleColor[p.c] || bigTeal}
        };
    });
}
const nodesOne = makeCircles(placeCrop(clusterOne, 0, 2500, 1.96, 2.613), ['0001967']);
const nodesFour = makeCircles(placeCrop(clusterFour, 200, 3200, 2.613, 2.8), ['0000879']);
const bigList = [
    ...placeCrop(bigUpperRight, 1600, 2050, 1.206, 1.742),
    ...placeCrop(bigLowerRight, 1800, 2900, 1.425, 1.96),
    ...placeCrop(bigUpperLeft, 1000, 2250, 1.96, 1.96),
    ...placeCrop(bigLowerLeft, 1000, 3000, 1.742, 1.742)
];
const nodesBig = makeCircles(bigList, []);

function allPairs(n) {
    const out = [];
    for (let i = 0; i < n; i++) for (let j = i + 1; j < n; j++) out.push({source: i, target: j});
    return out;
}
// big module: every node is tied to a regular subset of partners, and the two ABCG25 hubs to all
const linksBig = [];
const partnerStep = 7;
nodesBig.forEach(function (node, i) {
    const isHub = node.symbol === 'diamond';
    nodesBig.forEach(function (other, j) {
        if (i !== j && (j % partnerStep === 0 || isHub)) linksBig.push({source: i, target: j});
    });
});

function netSeries(nodes, links, labelStyle, lineStyle, symbol, name) {
    return {
        type: 'graph',
        name: name,
        coordinateSystem: 'cartesian2d',
        xAxisIndex: 0,
        yAxisIndex: 0,
        silent: true,
        animation: false,
        z: 3,
        symbol: symbol,
        data: nodes,
        links: links,
        lineStyle: lineStyle,
        label: Object.assign({show: true, position: 'inside', fontFamily: 'Liberation Sans'}, labelStyle),
        emphasis: {disabled: true}
    };
}
const smallLabel = {fontSize: 5, color: 'rgba(20,20,20,0.55)'};
const nameLabel = {fontSize: 13.8, color: '#000'};
const faintLine = {color: '#bbb', width: 0.6, opacity: 0.25};
const titleFont = 'bold 42px "DejaVu Sans"';

const chart = echarts.init(document.getElementById('chart'), null, {renderer: 'canvas'});
chart.setOption({
    animation: false,
    backgroundColor: '#ffffff',
    grid: {left: 0, right: 0, top: 0, bottom: 0},
    xAxis: {type: 'value', min: 0, max: 2930, show: false},
    yAxis: {type: 'value', min: 0, max: 3916, inverse: true, show: false},
    series: [
        {
            type: 'custom',
            name: 'solid edge core',
            coordinateSystem: 'cartesian2d',
            silent: true,
            z: 1,
            data: [coreOutline[0]],
            renderItem: function (params, api) {
                return {
                    type: 'polygon',
                    shape: {points: coreOutline.map(function (p) { return api.coord(p); })},
                    style: {fill: '#808080', shadowBlur: 60, shadowColor: '#808080'}
                };
            }
        },
        netSeries(nodesA, linksA, smallLabel, {color: '#808080', width: 1.3, opacity: 0.9}, 'roundRect', 'module map'),
        netSeries(nodesBig, linksBig, nameLabel, {color: '#9a9a9a', width: 0.6, opacity: 0.16}, 'circle', 'StABCG25-2 and StABCG25-3'),
        netSeries(nodesOne, allPairs(nodesOne.length), nameLabel, faintLine, 'circle', 'StABCG25-1'),
        netSeries(nodesFour, allPairs(nodesFour.length), nameLabel, faintLine, 'circle', 'StABCG25-4')
    ],
    graphic: [
        {type: 'text', left: 92, top: 46, scaleX: 0.78, z: 100, style: {text: 'A', font: 'bold 128px "DejaVu Serif"', fill: '#000'}},
        {type: 'text', left: 96, top: 2322, scaleX: 0.78, z: 100, style: {text: 'B', font: 'bold 128px "DejaVu Serif"', fill: '#000'}},
        {type: 'text', left: 24, top: 2680, z: 100, style: {text: 'StABCG25-1', font: titleFont, fill: '#000', stroke: '#000', lineWidth: 2}},
        {type: 'text', left: 1068, top: 2524, z: 100, style: {text: 'StABCG25-2', font: titleFont, fill: '#000', stroke: '#000', lineWidth: 2}},
        {type: 'text', left: 1384, top: 3856, z: 100, style: {text: 'StABCG25-3', font: titleFont, fill: '#000', stroke: '#000', lineWidth: 2}},
        {type: 'text', left: 224, top: 3688, z: 100, style: {text: 'StABCG25-4', font: titleFont, fill: '#000', stroke: '#000', lineWidth: 2}}
    ]
});
</script>
</body>
</html>
